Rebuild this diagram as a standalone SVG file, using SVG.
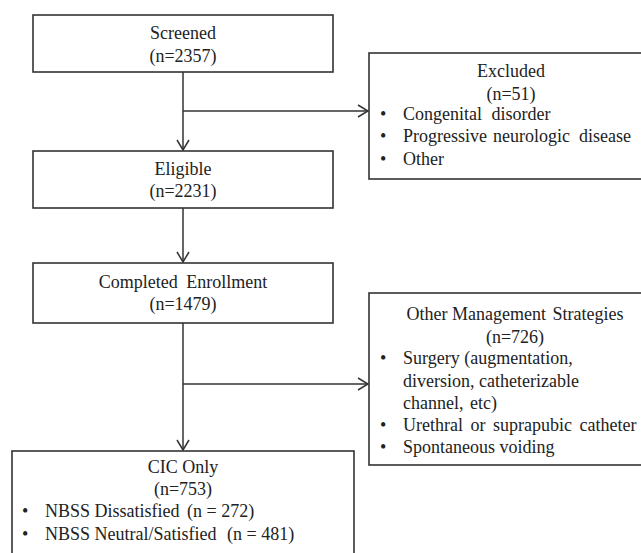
<svg xmlns="http://www.w3.org/2000/svg" width="641" height="553" viewBox="0 0 641 553">
<defs>
<style>
.box{fill:#fff;stroke:#333;stroke-width:1.6}
.ln{fill:none;stroke:#333;stroke-width:1.5}
.t text{font-size:18px;fill:#222}
.c{text-anchor:middle}
</style>
<marker id="arr" markerUnits="userSpaceOnUse" viewBox="0 0 12 14" refX="11" refY="7" markerWidth="12" markerHeight="14" orient="auto">
<path d="M1,1 L11,7 L1,13" fill="none" stroke="#333" stroke-width="1.5"/>
</marker>
</defs>
<rect width="641" height="553" fill="#fff"/>
<g id="connectors">
<path class="ln" d="M183,72 V150" marker-end="url(#arr)"/>
<path class="ln" d="M183,111 H368" marker-end="url(#arr)"/>
<path class="ln" d="M183,208 V262" marker-end="url(#arr)"/>
<path class="ln" d="M183,323 V450" marker-end="url(#arr)"/>
<path class="ln" d="M183,384 H368" marker-end="url(#arr)"/>
</g>
<g class="t" font-family="Liberation Serif, Times New Roman, serif">
<g id="screened">
<rect class="box" x="33" y="15" width="300" height="57"/>
<text class="c" x="183" y="39">Screened</text>
<text class="c" x="183" y="62">(n=2357)</text>
</g>
<g id="excluded">
<rect class="box" x="369" y="53" width="284" height="126"/>
<text class="c" x="511" y="77">Excluded</text>
<text class="c" x="511" y="100">(n=51)</text>
<text x="380" y="120">•</text><text x="403" y="120">Congenital <tspan dx="5">disorder</tspan></text>
<text x="380" y="142">•</text><text x="403" y="142" word-spacing="1.5">Progressive neurologic <tspan dx="3">disease</tspan></text>
<text x="380" y="165">•</text><text x="403" y="165">Other</text>
</g>
<g id="eligible">
<rect class="box" x="33" y="151" width="300" height="57"/>
<text class="c" x="183" y="175">Eligible</text>
<text class="c" x="183" y="197">(n=2231)</text>
</g>
<g id="completed">
<rect class="box" x="33" y="263" width="300" height="60"/>
<text class="c" x="183" y="288" word-spacing="4">Completed Enrollment</text>
<text class="c" x="183" y="310">(n=1479)</text>
</g>
<g id="other">
<rect class="box" x="369" y="293" width="284" height="172"/>
<text class="c" x="515" y="320">Other Management <tspan dx="2">Strategies</tspan></text>
<text class="c" x="515" y="343">(n=726)</text>
<text x="380" y="364">•</text><text x="403" y="364">Surgery (augmentation,</text>
<text x="403" y="387">diversion, catheterizable</text>
<text x="403" y="409">channel, <tspan dx="2">etc)</tspan></text>
<text x="380" y="431">•</text><text x="403" y="431" word-spacing="3">Urethral or suprapubic catheter</text>
<text x="380" y="453">•</text><text x="403" y="453">Spontaneous voiding</text>
</g>
<g id="cic">
<rect class="box" x="12" y="451" width="342" height="120"/>
<text class="c" x="183" y="473">CIC Only</text>
<text class="c" x="183" y="495">(n=753)</text>
<text x="22" y="517">•</text><text x="45" y="517">NBSS Dissatisfied <tspan dx="3">(n = 272)</tspan></text>
<text x="22" y="540">•</text><text x="45" y="540">NBSS Neutral/Satisfied <tspan dx="6">(n = 481)</tspan></text>
</g>
</g>
</svg>
